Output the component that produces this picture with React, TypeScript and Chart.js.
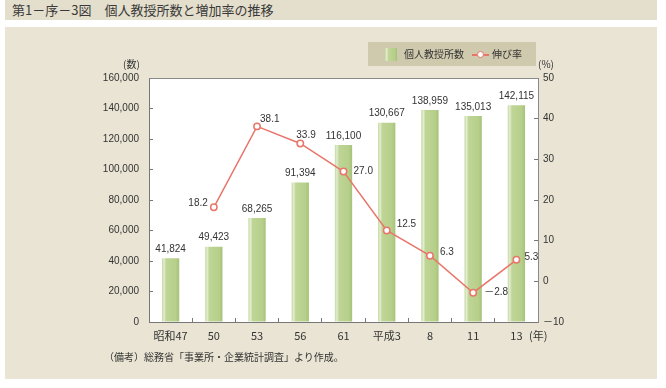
import React, { useEffect, useRef } from 'react';
import { Chart, registerables } from 'chart.js';

Chart.register(...registerables);

// ---- data ----
const categories = ['昭和47', '50', '53', '56', '61', '平成3', '8', '11', '13'];
const schoolCounts = [41824, 49423, 68265, 91394, 116100, 130667, 138959, 135013, 142115];
const growthRates: (number | null)[] = [null, 18.2, 38.1, 33.9, 27.0, 12.5, 6.3, -2.8, 5.3];
const countAxis = { min: 0, max: 160000, step: 20000 };
const rateAxis = { min: -10, max: 50, step: 10 };

// ---- label placement (style, relative to each point) ----
const rateLabelPlacement: { dx: number; dy: number; align: CanvasTextAlign }[] = [
  { dx: 0, dy: 0, align: 'left' },
  { dx: -6, dy: -4, align: 'right' },
  { dx: 3, dy: -7, align: 'left' },
  { dx: -4, dy: -8, align: 'left' },
  { dx: 10, dy: 0, align: 'left' },
  { dx: 10, dy: -6, align: 'left' },
  { dx: 10, dy: -3, align: 'left' },
  { dx: 11, dy: 0, align: 'left' },
  { dx: 8, dy: -3, align: 'left' },
];

const NUM_FONT = "'Liberation Sans', 'Noto Sans CJK JP', sans-serif";
const JP_FONT = "'Noto Sans CJK JP', 'Noto Sans', sans-serif";
const BAR_PCT = 0.4;
const LINE_COLOR = '#e8766b';

const fmtSigned = (v: number, digits: number) =>
  v < 0 ? '－' + Math.abs(v).toFixed(digits) : v.toFixed(digits);

const areaPlugin = {
  id: 'areaPlugin',
  beforeDraw(chart: any) {
    const { ctx, chartArea: a } = chart;
    ctx.save();
    ctx.fillStyle = '#ffffff';
    ctx.fillRect(a.left, a.top, a.right - a.left, a.bottom - a.top);
    ctx.restore();
  },
  afterDraw(chart: any) {
    const { ctx, chartArea: a } = chart;
    ctx.save();
    ctx.strokeStyle = '#8a8a8a';
    ctx.lineWidth = 1;
    ctx.beginPath();
    ctx.moveTo(Math.round(a.left) + 0.5, Math.round(a.top) + 0.5);
    ctx.lineTo(Math.round(a.right) + 0.5, Math.round(a.top) + 0.5);
    ctx.stroke();
    ctx.restore();
  },
};

const labelPlugin = {
  id: 'labelPlugin',
  afterDatasetsDraw(chart: any) {
    const ctx = chart.ctx;
    ctx.save();
    ctx.fillStyle = '#333333';
    ctx.font = `10px ${NUM_FONT}`;
    ctx.textBaseline = 'middle';
    const bars = chart.getDatasetMeta(1).data;
    ctx.textAlign = 'center';
    bars.forEach((el: any, i: number) => {
      ctx.fillText(schoolCounts[i].toLocaleString('en-US'), el.x, el.y - 9);
    });
    const pts = chart.getDatasetMeta(0).data;
    pts.forEach((el: any, i: number) => {
      const v = growthRates[i];
      if (v == null) return;
      const p = rateLabelPlacement[i];
      ctx.textAlign = p.align;
      ctx.fillText(fmtSigned(v, 1), el.x + p.dx, el.y + p.dy);
    });
    ctx.restore();
  },
};

function barGradient(c: any) {
  const chart = c.chart;
  const xs = chart.scales && chart.scales.x;
  if (c.type !== 'data' || !xs || !chart.chartArea) return '#b7d08b';
  const cx = xs.getPixelForValue(c.dataIndex);
  const w = (xs.width / categories.length) * BAR_PCT;
  const g = chart.ctx.createLinearGradient(cx - w / 2, 0, cx + w / 2, 0);
  g.addColorStop(0, '#c3d89c');
  g.addColorStop(0.12, '#e3edd3');
  g.addColorStop(0.24, '#bfd596');
  g.addColorStop(0.8, '#b6cf8a');
  g.addColorStop(1, '#a6c27a');
  return g;
}

export default function App() {
  const canvasRef = useRef<HTMLCanvasElement | null>(null);

  useEffect(() => {
    if (!canvasRef.current) return;
    const chart = new Chart(canvasRef.current, {
      type: 'bar',
      data: {
        labels: categories,
        datasets: [
          {
            type: 'line',
            label: '伸び率',
            data: growthRates,
            yAxisID: 'y1',
            borderColor: LINE_COLOR,
            borderWidth: 1.5,
            pointBackgroundColor: '#ffffff',
            pointBorderColor: LINE_COLOR,
            pointBorderWidth: 1.5,
            pointRadius: 3.2,
            tension: 0,
            spanGaps: false,
            order: 0,
          } as any,
          {
            type: 'bar',
            label: '個人教授所数',
            data: schoolCounts,
            yAxisID: 'y',
            backgroundColor: barGradient,
            borderWidth: 0,
            barPercentage: BAR_PCT,
            categoryPercentage: 1,
            order: 1,
          } as any,
        ],
      },
      options: {
        animation: false,
        responsive: false,
        maintainAspectRatio: false,
        layout: { padding: { left: 89, right: 88, top: 78, bottom: 36 } },
        plugins: { legend: { display: false }, tooltip: { enabled: false } },
        scales: {
          x: {
            type: 'category',
            offset: true,
            grid: { offset: true, drawOnChartArea: false, drawTicks: true, tickLength: -4, color: '#777' },
            border: { color: '#777', width: 1 },
            ticks: {
              color: '#333',
              font: { size: 11, family: JP_FONT },
              padding: 11,
              autoSkip: false,
              maxRotation: 0,
            },
            afterFit: (s: any) => { s.height = 30; },
          },
          y: {
            position: 'left',
            min: countAxis.min,
            max: countAxis.max,
            grid: { drawOnChartArea: false, drawTicks: true, tickLength: -4, color: '#777' },
            border: { color: '#777', width: 1 },
            ticks: {
              stepSize: countAxis.step,
              color: '#333',
              font: { size: 10, family: NUM_FONT },
              padding: 14,
              callback: (v: any) => Number(v).toLocaleString('en-US'),
            },
            afterFit: (s: any) => { s.width = 60; },
          },
          y1: {
            position: 'right',
            min: rateAxis.min,
            max: rateAxis.max,
            grid: { drawOnChartArea: false, drawTicks: true, tickLength: -4, color: '#777' },
            border: { color: '#8a8a8a', width: 1 },
            ticks: {
              stepSize: rateAxis.step,
              color: '#333',
              font: { size: 10, family: NUM_FONT },
              padding: 9,
              callback: (v: any) => fmtSigned(Number(v), 0),
            },
            afterFit: (s: any) => { s.width = 40; },
          },
        },
      },
      plugins: [areaPlugin, labelPlugin],
    });
    return () => chart.destroy();
  }, []);

  const abs = (o: React.CSSProperties): React.CSSProperties => ({ position: 'absolute', ...o });

  return (
    <div style={abs({ left: 0, top: 0, width: 666, height: 388, background: '#ffffff', overflow: 'hidden', fontFamily: JP_FONT })}>
      <div style={abs({ left: 5, top: 0, width: 652, height: 20, background: '#e4dfcc' })} />
      <div style={abs({ left: 12, top: 2, fontSize: 13, lineHeight: '16px', color: '#3a3a3a', whiteSpace: 'nowrap' })}>
        第1－序－3図　個人教授所数と増加率の推移
      </div>
      <div style={abs({ left: 5, top: 27, width: 652, height: 352, background: '#e9e4d3' })} />
      <canvas ref={canvasRef} width={666} height={388} style={abs({ left: 0, top: 0, width: 666, height: 388 })} />
      <div style={abs({ left: 368, top: 42, width: 168, height: 24, background: '#cfc9ad' })}>
        <div style={abs({ left: 17, top: 6, width: 12, height: 13, background: 'linear-gradient(to right, #c3d89c 0%, #e3edd3 15%, #bfd596 30%, #b6cf8a 80%, #a6c27a 100%)' })} />
        <div style={abs({ left: 36, top: 4, fontSize: 10, lineHeight: '16px', color: '#333', whiteSpace: 'nowrap' })}>個人教授所数</div>
        <div style={abs({ left: 104, top: 12, width: 17, height: 1.5, background: LINE_COLOR })} />
        <div style={abs({ left: 109, top: 9, width: 5, height: 5, borderRadius: '50%', background: '#fff', border: `1.5px solid ${LINE_COLOR}` })} />
        <div style={abs({ left: 124, top: 4, fontSize: 10, lineHeight: '16px', color: '#333', whiteSpace: 'nowrap' })}>伸び率</div>
      </div>
      <div style={abs({ left: 123, top: 57, fontSize: 10, lineHeight: '14px', color: '#333' })}>(数)</div>
      <div style={abs({ left: 538, top: 57, fontSize: 10, lineHeight: '14px', color: '#333' })}>(%)</div>
      <div style={abs({ left: 529, top: 328, fontSize: 11, lineHeight: '14px', color: '#333' })}>(年)</div>
      <div style={abs({ left: 104, top: 350, fontSize: 10, lineHeight: '14px', color: '#333', whiteSpace: 'nowrap' })}>
        （備考）総務省「事業所・企業統計調査」より作成。
      </div>
    </div>
  );
}
